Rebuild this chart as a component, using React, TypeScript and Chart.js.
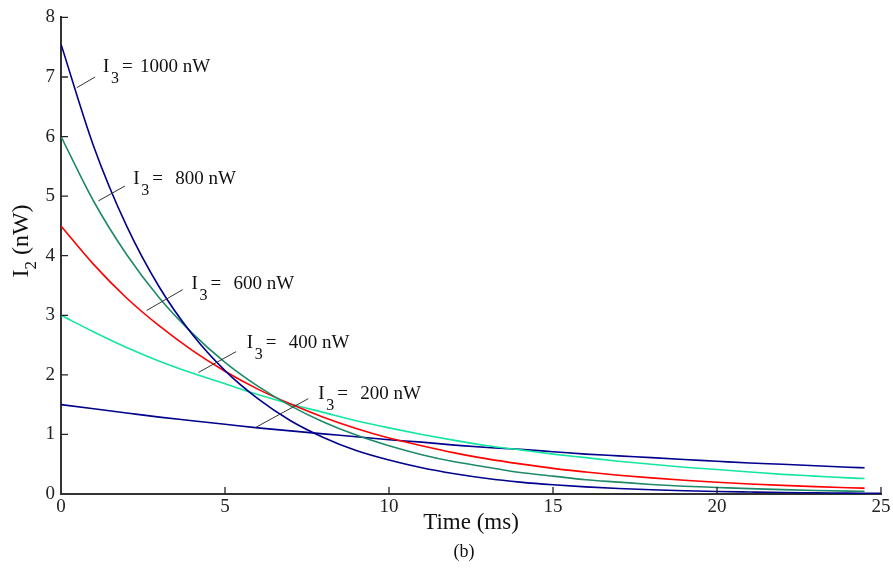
import React, { useEffect, useRef } from 'react';
import { Chart, registerables } from 'chart.js';
Chart.register(...registerables);

const FONT = '"Liberation Serif", "Times New Roman", serif';

// time axis (ms)
const timeMs = [0, 1, 2, 3, 4, 5, 6, 7, 8, 9, 10, 11, 12, 13, 14, 15, 16, 17, 18, 19, 20, 21, 22, 23, 24, 24.5, 25];

// I2 (nW) for each I3 level
const i3_1000 = [7.55, 5.83, 4.5, 3.47, 2.68, 2.07, 1.6, 1.23, 0.95, 0.73, 0.57, 0.44, 0.34, 0.26, 0.2, 0.155, 0.12, 0.092, 0.071, 0.055, 0.042, 0.033, 0.025, 0.02, 0.015, 0.013, 0.012];
const i3_800 = [6.0, 4.91, 4.02, 3.29, 2.7, 2.21, 1.81, 1.48, 1.21, 0.99, 0.81, 0.66, 0.54, 0.45, 0.36, 0.3, 0.24, 0.2, 0.16, 0.13, 0.11, 0.09, 0.074, 0.06, 0.049, 0.045, null];
const i3_600 = [4.5, 3.85, 3.29, 2.82, 2.41, 2.06, 1.76, 1.51, 1.29, 1.1, 0.94, 0.81, 0.69, 0.59, 0.505, 0.43, 0.37, 0.316, 0.27, 0.23, 0.197, 0.169, 0.144, 0.123, 0.106, 0.098, null];
const i3_400 = [3.0, 2.72, 2.46, 2.23, 2.03, 1.85, 1.67, 1.51, 1.37, 1.23, 1.11, 1.0, 0.9, 0.81, 0.74, 0.67, 0.61, 0.55, 0.5, 0.45, 0.41, 0.37, 0.33, 0.3, 0.27, 0.26, null];
const i3_200 = [1.5, 1.43, 1.36, 1.29, 1.23, 1.17, 1.11, 1.06, 1.01, 0.96, 0.91, 0.87, 0.82, 0.78, 0.75, 0.71, 0.67, 0.64, 0.61, 0.58, 0.55, 0.52, 0.5, 0.475, 0.45, 0.44, null];

const seriesNames = ['1000 nW', '800 nW', '600 nW', '400 nW', '200 nW'];
const seriesColors = ['#00008C', '#1E8A6A', '#FF0000', '#14E6A0', '#00008C'];

// tick values
const xTicks = [0, 5, 10, 15, 20, 25];
const yTicks = [0, 1, 2, 3, 4, 5, 6, 7, 8];

// label anchors (data units) and leader lines (data units)
const labelX = [1.28, 2.2, 3.98, 5.66, 7.84];
const labelY = [7.09, 5.2, 3.44, 2.45, 1.6];
const leaderX0 = [0.48, 1.14, 2.61, 4.19, 5.91];
const leaderY0 = [6.82, 4.92, 3.08, 2.04, 1.11];
const leaderX1 = [1.04, 1.95, 3.71, 5.34, 7.54];
const leaderY1 = [7.0, 5.17, 3.43, 2.39, 1.6];

const decor = {
  id: 'decor',
  afterDatasetsDraw(chart: any) {
    const { ctx, chartArea } = chart;
    const xs = chart.scales.x;
    const ys = chart.scales.y;
    ctx.save();
    // inward tick marks
    ctx.strokeStyle = '#222';
    ctx.lineWidth = 1.3;
    ctx.beginPath();
    xTicks.forEach((v) => {
      if (v === 0) return;
      const px = xs.getPixelForValue(v);
      ctx.moveTo(px, chartArea.bottom);
      ctx.lineTo(px, chartArea.bottom - 7);
    });
    yTicks.forEach((v) => {
      if (v === 0) return;
      const py = ys.getPixelForValue(v);
      ctx.moveTo(chartArea.left, py);
      ctx.lineTo(chartArea.left + 7, py);
    });
    ctx.stroke();

    // leader lines
    ctx.strokeStyle = '#333';
    ctx.lineWidth = 1;
    ctx.beginPath();
    seriesNames.forEach((_, i) => {
      ctx.moveTo(xs.getPixelForValue(leaderX0[i]), ys.getPixelForValue(leaderY0[i]));
      ctx.lineTo(xs.getPixelForValue(leaderX1[i]), ys.getPixelForValue(leaderY1[i]));
    });
    ctx.stroke();

    // labels
    ctx.fillStyle = '#111';
    ctx.textAlign = 'left';
    ctx.textBaseline = 'alphabetic';
    seriesNames.forEach((name, i) => {
      const ax = xs.getPixelForValue(labelX[i]);
      const ay = ys.getPixelForValue(labelY[i]);
      ctx.font = `19px ${FONT}`;
      ctx.fillText('I', ax, ay);
      ctx.font = `16px ${FONT}`;
      ctx.fillText('3', ax + 8, ay + 11);
      ctx.font = `19px ${FONT}`;
      ctx.fillText('=', ax + 19, ay);
      ctx.fillText(name, ax + (i === 0 ? 37 : 42), ay);
    });

    // x title
    ctx.textAlign = 'center';
    ctx.font = `23px ${FONT}`;
    ctx.fillText('Time (ms)', 471, 529);
    ctx.font = `18px ${FONT}`;
    ctx.fillText('(b)', 464, 557);

    // y title (rotated)
    ctx.translate(28, 241);
    ctx.rotate(-Math.PI / 2);
    ctx.textAlign = 'left';
    ctx.font = `24px ${FONT}`;
    const wI = ctx.measureText('I').width;
    const wRest = ctx.measureText(' (nW)').width;
    ctx.font = `17px ${FONT}`;
    const w2 = ctx.measureText('2').width;
    const start = -(wI + w2 + wRest) / 2;
    ctx.font = `24px ${FONT}`;
    ctx.fillText('I', start, 0);
    ctx.font = `17px ${FONT}`;
    ctx.fillText('2', start + wI, 8);
    ctx.font = `24px ${FONT}`;
    ctx.fillText(' (nW)', start + wI + w2, 0);
    ctx.restore();
  },
};

export default function App() {
  const ref = useRef<HTMLCanvasElement>(null);
  useEffect(() => {
    if (!ref.current) return;
    const all = [i3_1000, i3_800, i3_600, i3_400, i3_200];
    const datasets = all.map((arr, k) => ({
      label: seriesNames[k],
      data: timeMs.map((t, i) => ({ x: t, y: arr[i] })),
      borderColor: seriesColors[k],
      backgroundColor: seriesColors[k],
      borderWidth: 1.6,
      pointRadius: 0,
      fill: false,
      cubicInterpolationMode: 'monotone' as const,
      spanGaps: false,
    }));
    const chart = new Chart(ref.current, {
      type: 'line',
      data: { datasets },
      options: {
        animation: false,
        responsive: true,
        maintainAspectRatio: false,
        layout: { padding: { top: 13, right: 12, left: 0, bottom: 0 } },
        plugins: { legend: { display: false }, tooltip: { enabled: false } },
        scales: {
          x: {
            type: 'linear',
            min: 0,
            max: 25,
            afterFit: (s: any) => { s.height = 75; },
            afterBuildTicks: (s: any) => { s.ticks = xTicks.map((v) => ({ value: v })); },
            ticks: { font: { family: FONT, size: 19 }, color: '#222', padding: 2, maxRotation: 0 },
            grid: { display: true, drawOnChartArea: false, drawTicks: false },
            border: { display: true, color: '#333', width: 2 },
          },
          y: {
            type: 'linear',
            min: 0,
            max: 8,
            afterFit: (s: any) => { s.width = 61; },
            afterBuildTicks: (s: any) => { s.ticks = yTicks.map((v) => ({ value: v })); },
            ticks: { font: { family: FONT, size: 19 }, color: '#222', padding: 6 },
            grid: { display: true, drawOnChartArea: false, drawTicks: false },
            border: { display: true, color: '#333', width: 2 },
          },
        },
      },
      plugins: [decor],
    });
    return () => chart.destroy();
  }, []);
  return (
    <div style={{ position: 'fixed', left: 0, top: 0, width: 893, height: 569, background: '#fff' }}>
      <canvas ref={ref} />
    </div>
  );
}
